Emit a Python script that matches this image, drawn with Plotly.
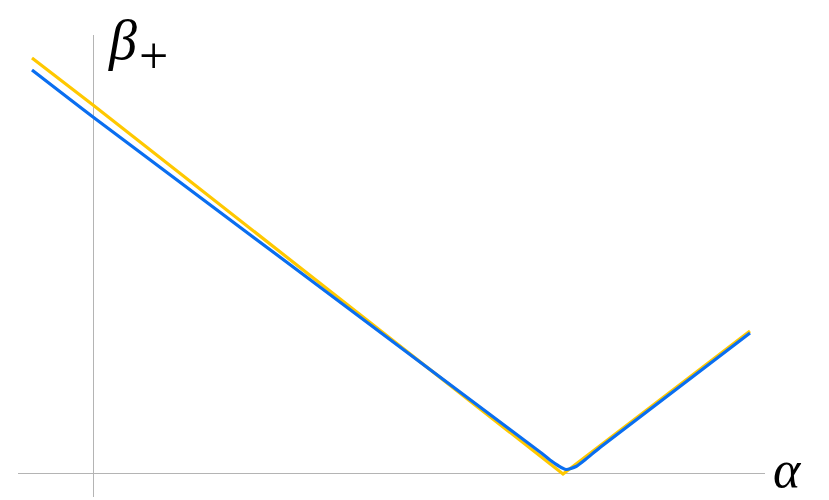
import plotly.graph_objects as go

# Curve samples (alpha, beta_plus), axes crossing at origin.
alpha_yellow = [-0.61, 0.0, 4.70, 6.57]
beta_yellow = [4.15, 3.68, -0.01, 1.42]

alpha_blue = [-0.61, 0.0, 4.47, 4.57, 4.65, 4.73, 4.83, 4.93, 5.07, 6.57]
beta_blue = [4.03, 3.56, 0.21, 0.13, 0.075, 0.035, 0.065, 0.14, 0.255, 1.40]

fig = go.Figure()
fig.add_trace(go.Scatter(
    x=alpha_yellow, y=beta_yellow, mode='lines',
    line=dict(color='rgb(255,200,0)', width=3.2),
))
fig.add_trace(go.Scatter(
    x=alpha_blue, y=beta_blue, mode='lines',
    line=dict(color='rgb(10,110,240)', width=3.2, shape='spline', smoothing=0.6),
))

serif = 'Liberation Serif, serif'
fig.add_annotation(x=0.29, y=4.33, text='<i>β</i>', showarrow=False,
                   xanchor='center', yanchor='middle',
                   font=dict(family=serif, size=56, color='black'))
fig.add_annotation(x=0.60, y=4.18, text='+', showarrow=False,
                   xanchor='center', yanchor='middle',
                   font=dict(family=serif, size=52, color='black'))
fig.add_annotation(x=1.030, y=0.06, xref='paper', yref='paper', text='<i>α</i>',
                   showarrow=False, xanchor='center', yanchor='middle',
                   font=dict(family=serif, size=52, color='black'))

axis_style = dict(showgrid=False, showticklabels=False, ticks='', showline=False,
                  zeroline=True, zerolinecolor='#b4b4b4', zerolinewidth=1)
fig.update_layout(
    width=821, height=492,
    margin=dict(l=10, r=64, t=27, b=3),
    plot_bgcolor='white', paper_bgcolor='white',
    showlegend=False,
    xaxis=dict(range=[-0.75, 6.72], **axis_style),
    yaxis=dict(range=[-0.24, 4.38], **axis_style),
)

fig.write_html("out.html")
